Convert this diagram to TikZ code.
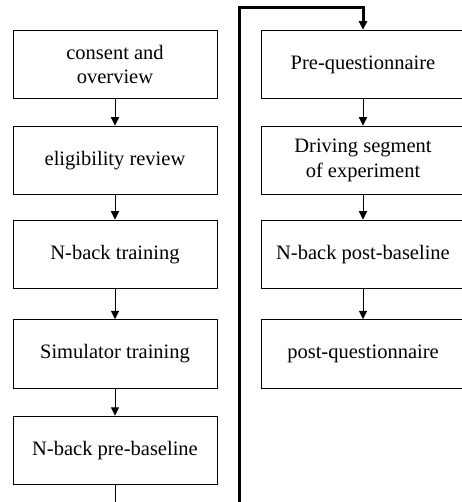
\documentclass[tikz,border=0pt]{standalone}
\usepackage{fontspec}
\setmainfont{Liberation Serif}
\usepackage{tikz}
\usetikzlibrary{positioning,arrows.meta,graphs}

\begin{document}
\begin{tikzpicture}[
        >={Triangle[length=8.5pt,width=8pt]},
        stepbox/.style={draw, line width=1pt, minimum width=204pt, minimum height=68.5pt, inner sep=0pt, align=center, font=\fontsize{20.5pt}{24.6pt}\selectfont},
        flowline/.style={line width=1pt},
        loopline/.style={line width=3pt}
    ]
        \useasboundingbox (0pt,0pt) rectangle (461pt,-502pt);

        \node[stepbox] (consent) at (115pt,-64.5pt) {consent and\\overview};
        \node[stepbox, below=26.5pt of consent] (elig) {eligibility review};
        \node[stepbox, below=24.5pt of elig] (nbtrain) {N-back training};
        \node[stepbox, below=30pt of nbtrain] (simtrain) {Simulator training};
        \node[stepbox, below=27pt of simtrain] (nbpre) {N-back pre-baseline};

        \node[stepbox, right=43pt of consent] (preq) {Pre-questionnaire};
        \node[stepbox, below=26.5pt of preq] (driving) {Driving segment\\of experiment};
        \node[stepbox, below=24.5pt of driving] (nbpost) {N-back post-baseline};
        \node[stepbox, below=30pt of nbpost] (postq) {post-questionnaire};

        \coordinate (exitpre) at (115pt,-530pt);
        \coordinate (loopbot) at (239pt,-530pt);
        \coordinate (looptop) at (239pt,-7.5pt);

        \graph [edges={flowline}] {
        (consent) -> (elig) -> (nbtrain) -> (simtrain) -> (nbpre),
        (preq) -> (driving) -> (nbpost) -> (postq),
        };

        \draw[flowline] (nbpre) -- (exitpre);
        \draw[loopline, ->] (loopbot) -- (looptop) -| (preq.north);
    \end{tikzpicture}
\end{document}
